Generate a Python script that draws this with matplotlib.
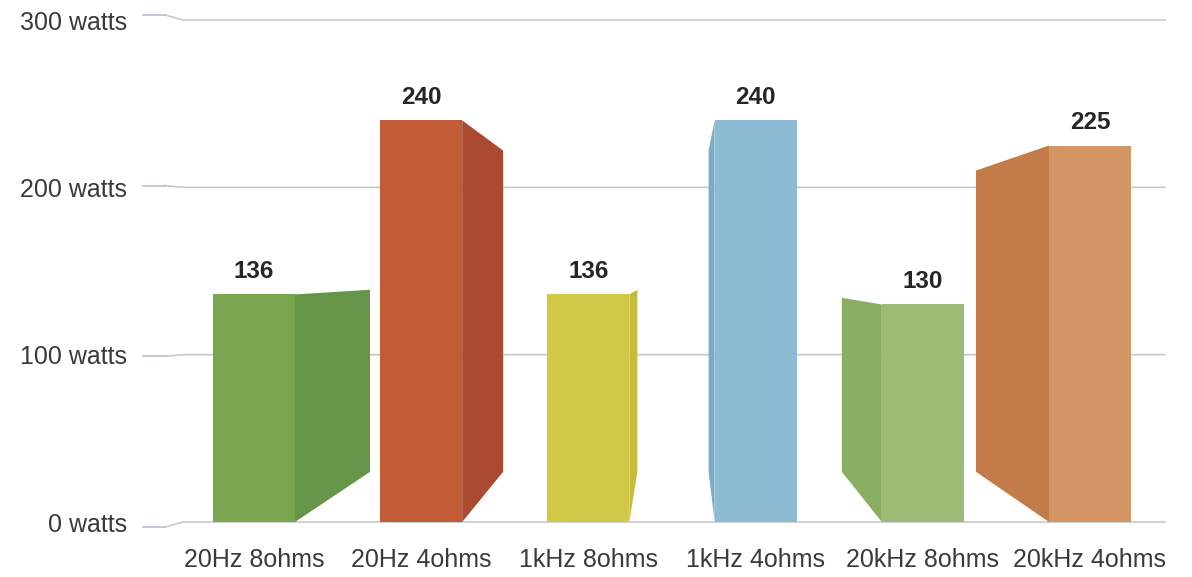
import matplotlib.pyplot as plt
import numpy as np

plt.rcParams['font.family'] = ['Liberation Sans', 'DejaVu Sans']

# data
categories = ["20Hz 8ohms", "20Hz 4ohms", "1kHz 8ohms", "1kHz 4ohms", "20kHz 8ohms", "20kHz 4ohms"]
watts = [136, 240, 136, 240, 130, 225]
y_ticks = [0, 100, 200, 300]
y_labels = ["0 watts", "100 watts", "200 watts", "300 watts"]

# look of the fake 3d boxes
front_colors = ["#7aa650", "#c15c37", "#d1c848", "#8cbbd3", "#9dbb74", "#d49565"]
side_colors = ["#669449", "#ab4a31", "#c5bc3f", "#79acc7", "#89ae62", "#c37b4a"]
side_depth = [0.449, 0.245, 0.048, -0.036, -0.239, -0.437]  # + = side on the right, - = on the left
front_w = 0.49
far_lift = 30     # far edge bottom is raised (perspective)
far_scale = 0.8   # far edge is shorter

fig = plt.figure(figsize=(11.92, 5.77), dpi=100)
ax = fig.add_axes([183/1192, 55/577, 982/1192, 502/577])
ax.set_xlim(-0.4246, 5.4486)
ax.set_ylim(0, 300)

x = np.arange(len(categories))

for i, v in enumerate(watts):
    xl = x[i] - front_w/2
    xr = x[i] + front_w/2
    # front face
    ax.fill([xl, xr, xr, xl], [0, 0, v, v], color=front_colors[i], lw=0, zorder=3)
    # side face
    d = side_depth[i]
    x0 = xr if d > 0 else xl
    x1 = x0 + d
    ax.fill([x0, x1, x1, x0], [0, far_lift, far_lift + far_scale*v, v],
            color=side_colors[i], lw=0, zorder=3)
    ax.annotate(str(v), (x[i], v), xytext=(0, 16.5), textcoords="offset points",
                ha="center", va="center", fontsize=17.5, fontweight="bold",
                color="#262626", zorder=4)

# grid lines with the small kinked tick on the left
ax.set_yticks(y_ticks)
ax.set_yticklabels(y_labels, fontsize=18, color="#3a3a3a")
ax.tick_params(axis="y", length=0, pad=40)
trans = ax.get_yaxis_transform()
for t in y_ticks:
    off = (t - 150) * 0.02
    ax.plot([-0.0407, -0.0183], [t + off, t + off], color="#b4bfcc", lw=1.2,
            transform=trans, clip_on=False)
    ax.plot([-0.0183, 0, 1], [t + off, t, t], color="#c8c8c8", lw=1.2,
            transform=trans, clip_on=False, zorder=1)

ax.set_xticks(x)
ax.set_xticklabels(categories, fontsize=18, color="#3a3a3a")
ax.tick_params(axis="x", length=0, pad=19)

for s in ax.spines.values():
    s.set_visible(False)

fig.savefig("out.png", dpi=100, facecolor="white")
